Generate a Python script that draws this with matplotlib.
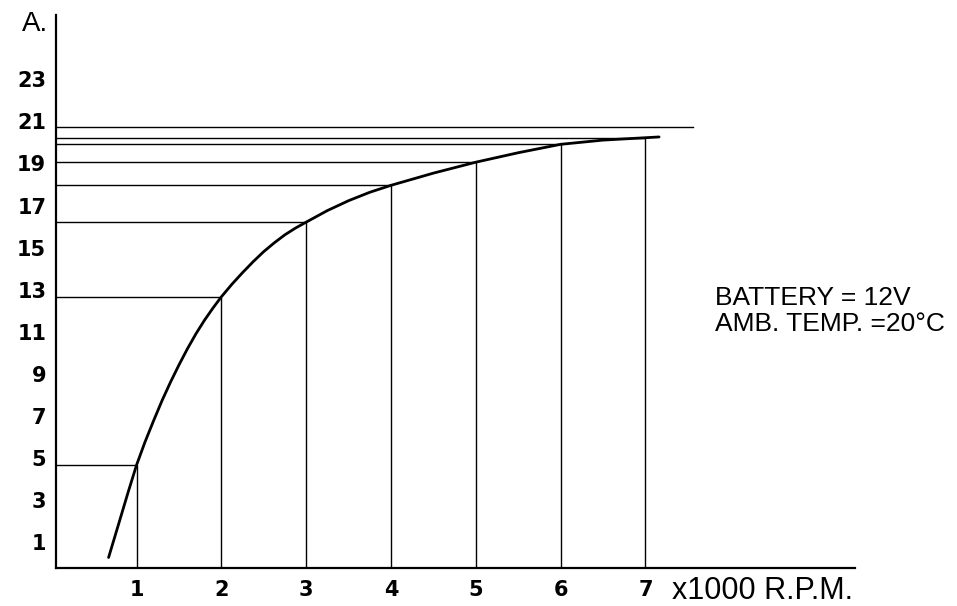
import matplotlib
matplotlib.use("Agg")
import matplotlib.pyplot as plt
from matplotlib.transforms import ScaledTranslation

# ---- data ----
rpm_points = [1, 2, 3, 4, 5, 6, 7]
amp_points = [4.9, 12.9, 16.45, 18.2, 19.3, 20.15, 20.45]

curve_rpm = [0.67, 0.8, 0.9, 1.0, 1.1, 1.2, 1.3, 1.4, 1.5, 1.6, 1.7, 1.8, 1.9,
             2.0, 2.125, 2.25, 2.375, 2.5, 2.625, 2.75, 2.875, 3.0,
             3.25, 3.5, 3.75, 4.0, 4.5, 5.0, 5.5, 6.0, 6.5, 7.16]
curve_amp = [0.5, 2.25, 3.6, 4.9, 6.0, 7.0, 7.96, 8.84, 9.66, 10.43, 11.14,
             11.78, 12.36, 12.9, 13.5, 14.05, 14.57, 15.05, 15.47, 15.85,
             16.17, 16.45, 17.0, 17.47, 17.87, 18.2, 18.78, 19.3, 19.75,
             20.15, 20.35, 20.5]

max_amp = 20.95
max_rpm = 7.56

y_ticks = [1, 3, 5, 7, 9, 11, 13, 15, 17, 19, 21, 23]
x_ticks = [1, 2, 3, 4, 5, 6, 7]

W, H = 957, 606
fig = plt.figure(figsize=(W / 100, H / 100), dpi=100)
ax = fig.add_axes([56 / W, 1 - 568 / H, 799 / W, 553 / H])

ax.set_xlim(0.05, 9.47)
ax.set_ylim(0, 26.3)

for s in ("top", "right"):
    ax.spines[s].set_visible(False)
for s in ("left", "bottom"):
    ax.spines[s].set_linewidth(1.6)
    ax.spines[s].set_color("black")

# guide lines to the data points
for r, a in zip(rpm_points, amp_points):
    ax.plot([0.05, r], [a, a], color="black", lw=1.0, solid_capstyle="butt")
    ax.plot([r, r], [0, a], color="black", lw=1.0, solid_capstyle="butt")
ax.plot([0.05, max_rpm], [max_amp, max_amp], color="black", lw=1.0)

# main curve
ax.plot(curve_rpm, curve_amp, color="black", lw=2.0,
        solid_capstyle="round", solid_joinstyle="round")

ax.set_xticks(x_ticks)
ax.set_xticklabels([str(v) for v in x_ticks])
ax.set_yticks(y_ticks)
ax.set_yticklabels([str(v) for v in y_ticks])
ax.tick_params(axis="both", length=0)
ax.tick_params(axis="x", pad=9)
ax.tick_params(axis="y", pad=7)
for lab in ax.get_xticklabels() + ax.get_yticklabels():
    lab.set_fontfamily("DejaVu Sans")
    lab.set_fontweight("bold")
    lab.set_fontsize(15)
off = ScaledTranslation(0, 0.05, fig.dpi_scale_trans)
for lab in ax.get_yticklabels():
    lab.set_transform(lab.get_transform() + off)

fig.text(22 / W, 1 - 24 / H, "A.", fontsize=20, family="Liberation Sans",
         ha="left", va="center")
fig.text(672 / W, 1 - 591 / H, "x1000 R.P.M.", fontsize=22,
         family="Liberation Sans", ha="left", va="center")
fig.text(715 / W, 1 - 298 / H, "BATTERY = 12V", fontsize=19,
         family="Liberation Sans", ha="left", va="center")
fig.text(715 / W, 1 - 324 / H, "AMB. TEMP. =20°C", fontsize=19,
         family="Liberation Sans", ha="left", va="center")

fig.savefig("out.png", dpi=100)
